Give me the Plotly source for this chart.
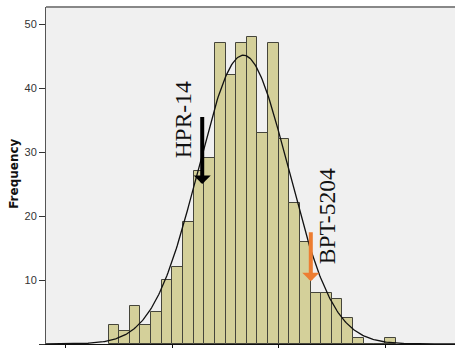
import numpy as np
import plotly.graph_objects as go

# Histogram: bin left edges (unit-width bins) and counts per bin
bin_edges = [4, 5, 6, 7, 8, 9, 10, 11, 12, 13, 14, 15, 16, 17, 18, 19, 20,
             21, 22, 23, 24, 25, 26, 27, 28, 29, 30]
counts = [3, 2, 6, 3, 5, 10, 12, 19, 27, 29, 47, 42, 47, 48, 33, 47, 32,
          22, 16, 8, 8, 7, 4, 1, 0, 0, 1]
bin_width = 1.0

y_ticks = [0, 10, 20, 30, 40, 50]
x_ticks = [0, 10, 20, 30]

# Marked genotypes: (label, x position, arrow tip, arrow tail, colour)
markers = [
    ("HPR-14", 12.81, 25.0, 35.7, "#000000"),
    ("BPT-5204", 23.02, 9.8, 17.7, "#ED7D31"),
]
label_pos = {"HPR-14": (11.0, 35.1), "BPT-5204": (24.62, 19.95)}

centers = np.array(bin_edges) + bin_width / 2
cnt = np.array(counts, dtype=float)
n = cnt.sum()
mean = (centers * cnt).sum() / n
sd = np.sqrt(((centers - mean) ** 2 * cnt).sum() / (n - 1))

x_range = [-1.88, 36.58]
xs = np.linspace(x_range[0], x_range[1], 400)
pdf = n * bin_width / (sd * np.sqrt(2 * np.pi)) * np.exp(-0.5 * ((xs - mean) / sd) ** 2)

fig = go.Figure()
fig.add_trace(go.Bar(
    x=centers, y=counts, width=bin_width,
    marker=dict(color="#D4D09A", line=dict(color="#45453b", width=1)),
    hoverinfo="skip",
))
fig.add_trace(go.Scatter(
    x=xs, y=pdf, mode="lines",
    line=dict(color="#111111", width=1.3),
    hoverinfo="skip",
))

annotations = []
for name, x, tip, tail, col in markers:
    annotations.append(dict(
        x=x, y=tip, ax=x, ay=tail, xref="x", yref="y", axref="x", ayref="y",
        text="", showarrow=True, arrowhead=1, arrowwidth=4, arrowsize=0.71,
        arrowcolor=col,
    ))
    lx, ly = label_pos[name]
    annotations.append(dict(
        x=lx, y=ly, xref="x", yref="y", text=name, showarrow=False,
        textangle=-90, xanchor="center", yanchor="middle",
        font=dict(family="Liberation Serif", size=23.5, color="#111111"),
    ))

annotations.append(dict(
    x=-32 / 409, y=0.505, xref="paper", yref="paper", text="<b>Frequency</b>",
    showarrow=False, textangle=-90, xanchor="center", yanchor="middle",
    font=dict(family="DejaVu Sans", size=12, color="#111111"),
))

fig.update_layout(
    width=455, height=348,
    margin=dict(l=46, r=0, t=7, b=4),
    paper_bgcolor="white", plot_bgcolor="#F0F0F0",
    showlegend=False, bargap=0,
    annotations=annotations,
    shapes=[dict(type="line", xref="paper", yref="paper", x0=0, x1=1, y0=1, y1=1,
                 line=dict(color="#888888", width=2))],
    xaxis=dict(range=x_range, tickvals=x_ticks, showticklabels=False,
               ticks="outside", ticklen=5, tickcolor="#111111",
               showline=True, linecolor="#111111", linewidth=1,
               showgrid=False, zeroline=False, fixedrange=True),
    yaxis=dict(range=[0, 52.66], tickvals=y_ticks,
               ticks="outside", ticklen=6, tickcolor="#333333",
               tickfont=dict(family="Liberation Sans", size=11, color="#333333"),
               showline=True, linecolor="#555555", linewidth=1,
               showgrid=False, zeroline=False, fixedrange=True),
)

fig.write_html("out.html")
